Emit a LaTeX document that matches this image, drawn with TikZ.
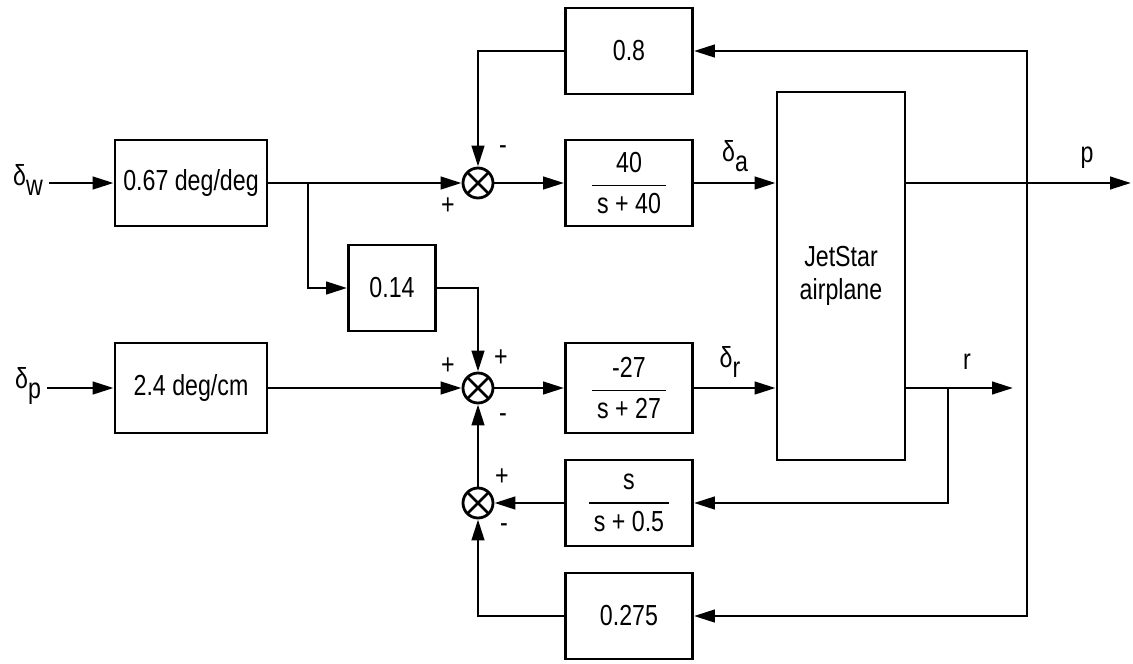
\documentclass[tikz,border=0pt]{standalone}
\usepackage{amsmath}
\usepackage{fontspec}
\setmainfont{Liberation Sans}[FakeStretch=0.8]
\usetikzlibrary{arrows.meta}
\newcommand{\dsig}[1]{δ\raisebox{-0.7ex}{#1}}

\begin{document}
\begin{tikzpicture}[x=0.02cm,y=-0.02cm,
  font=\fontsize{16.5}{19}\selectfont,
  blk/.style={draw,line width=1.6pt,inner sep=0pt,minimum width=2.54cm,minimum height=1.72cm},
  sumj/.style={circle,draw,line width=1.6pt,minimum size=0.6cm,inner sep=0pt,
    path picture={\draw[line width=1.6pt]
      (path picture bounding box.center) +(45:0.3cm) -- +(225:0.3cm)
      (path picture bounding box.center) +(135:0.3cm) -- +(-45:0.3cm);}},
  sig/.style={line width=1.6pt,-{Triangle[length=0.42cm,width=0.25cm]}}]
\useasboundingbox (0,0) rectangle (1133,663);
% input gains
\node[blk,minimum width=3.04cm] (gw) at (191,183) {0.67 deg/deg};
\node[blk,minimum width=3.04cm,minimum height=1.8cm] (gp) at (191,388) {2.4 deg/cm};
\node (dw) at (28,180) {\dsig{w}};
\node (dp) at (28,386) {\dsig{p}};
\node[blk,minimum width=1.74cm] (k14) at (392,288) {0.14};
% summing junctions
\node[sumj] (s1) at (478,183) {};
\node[sumj] (s2) at (478,388) {};
\node[sumj] (s3) at (478,503) {};
\node (s1p) at (448,206) {+};
\node (s1m) at (503,150) {-};
\node (s2pa) at (448,366) {+};
\node (s2pb) at (501,358) {+};
\node (s2m) at (503,418) {-};
\node (s3p) at (502,477) {+};
\node (s3m) at (504,528) {-};
% filters and feedback gains
\node[blk] (k08) at (629,51) {0.8};
\node[blk] (fa) at (629,183) {$\dfrac{\text{40}}{\text{\,s + 40\,}}$};
\node[blk,minimum height=1.8cm] (fr) at (629,388) {$\dfrac{\text{-27}}{\text{\,s + 27\,}}$};
\node[blk] (wo) at (629,503) {$\dfrac{\text{s}}{\text{\,s + 0.5\,}}$};
\node[blk] (k275) at (629,616) {0.275};
% airplane
\node[blk,minimum width=2.56cm,minimum height=7.36cm,align=center] (jet) at (841,276) {JetStar\\airplane};
\node (da) at (735,156) {\dsig{a}};
\node (dr) at (730,362) {\dsig{r}};
\node (pl) at (1087,158) {p};
\node (rl) at (967,362) {r};
\coordinate (br) at (308,183);
\coordinate (rb) at (948,388);
\coordinate (pb) at (1027,183);
\coordinate (pend) at (1131,183);
\coordinate (rend) at (1013,388);
% forward path
\draw[sig] (dw.east |- gw.west) -- (gw.west);
\draw[sig] (dp.east |- gp.west) -- (gp.west);
\draw[sig] (gw.east) -- (s1.west);
\draw[sig] (br) |- (k14.west);
\draw[sig] (k14.east) -| (s2.north);
\draw[sig] (gp.east) -- (s2.west);
\draw[sig] (s1.east) -- (fa.west);
\draw[sig] (s2.east) -- (fr.west);
\draw[sig] (fa.east) -- (fa.east -| jet.west);
\draw[sig] (fr.east) -- (fr.east -| jet.west);
\draw[sig] (jet.east |- pend) -- (pend);
\draw[sig] (jet.east |- rend) -- (rend);
% feedback
\draw[sig] (rb) |- (wo.east);
\draw[sig] (wo.west) -- (s3.east);
\draw[sig] (s3.north) -- (s2.south);
\draw[sig] (pb) |- (k08.east);
\draw[sig] (pb) |- (k275.east);
\draw[sig] (k08.west) -| (s1.north);
\draw[sig] (k275.west) -| (s3.south);
\end{tikzpicture}
\end{document}
